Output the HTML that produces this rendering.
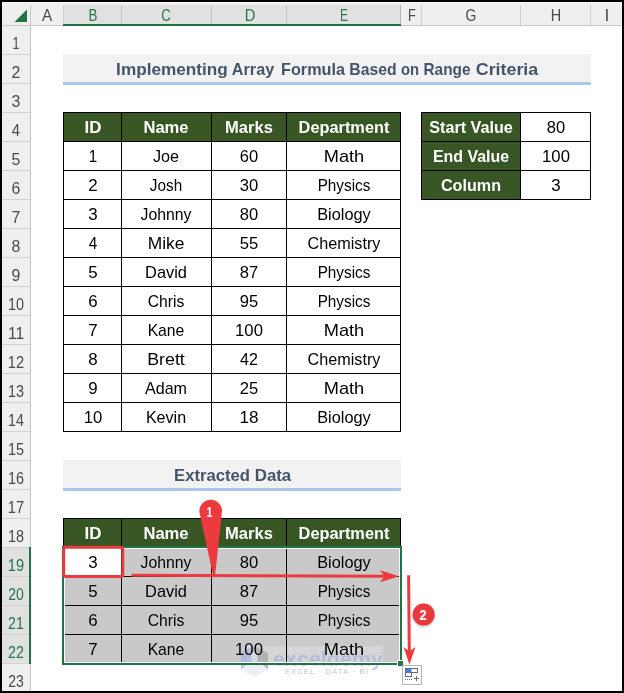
<!DOCTYPE html><html><head><meta charset="utf-8"><title>Excel</title><style>
html,body{margin:0;padding:0;}body{width:624px;height:693px;background:#000;position:relative;overflow:hidden;font-family:"Liberation Sans", sans-serif;}
#s{position:absolute;left:2px;top:2px;width:620px;height:689px;background:#fff;overflow:hidden;}
#o{position:absolute;left:-2px;top:-2px;width:624px;height:693px;}
.r{position:absolute;}
.t{position:absolute;white-space:nowrap;line-height:20px;height:20px;width:200px;text-align:center;transform-origin:50% 50%;}
</style></head><body><div id="s"><div id="o">
<div class="r" style="left:2px;top:2px;width:620px;height:23px;background:#efefef;"></div>
<div class="r" style="left:2px;top:2px;width:620px;height:1px;background:#f8f8f8;"></div>
<div class="r" style="left:2px;top:25px;width:28px;height:666px;background:#efefef;"></div>
<div class="r" style="left:63px;top:5px;width:337px;height:20px;background:#e1e1e1;"></div>
<div class="r" style="left:2px;top:547px;width:28px;height:116px;background:#e1e1e1;"></div>
<div class="r" style="left:2px;top:25px;width:620px;height:1px;background:#c8c8c8;"></div>
<div class="r" style="left:30px;top:5px;width:1px;height:686px;background:#c8c8c8;"></div>
<div class="r" style="left:63px;top:5px;width:1px;height:20px;background:#cfcfcf;"></div>
<div class="r" style="left:121px;top:5px;width:1px;height:20px;background:#c2c2c2;"></div>
<div class="r" style="left:211px;top:5px;width:1px;height:20px;background:#c2c2c2;"></div>
<div class="r" style="left:286px;top:5px;width:1px;height:20px;background:#c2c2c2;"></div>
<div class="r" style="left:400px;top:5px;width:1px;height:20px;background:#b4b4b4;"></div>
<div class="r" style="left:421px;top:5px;width:1px;height:20px;background:#cfcfcf;"></div>
<div class="r" style="left:520px;top:5px;width:1px;height:20px;background:#cfcfcf;"></div>
<div class="r" style="left:590px;top:5px;width:1px;height:20px;background:#cfcfcf;"></div>
<div class="r" style="left:2px;top:54px;width:28px;height:1px;background:#d2d2d2;"></div>
<div class="r" style="left:2px;top:83px;width:28px;height:1px;background:#d2d2d2;"></div>
<div class="r" style="left:2px;top:112px;width:28px;height:1px;background:#d2d2d2;"></div>
<div class="r" style="left:2px;top:141px;width:28px;height:1px;background:#d2d2d2;"></div>
<div class="r" style="left:2px;top:170px;width:28px;height:1px;background:#d2d2d2;"></div>
<div class="r" style="left:2px;top:199px;width:28px;height:1px;background:#d2d2d2;"></div>
<div class="r" style="left:2px;top:228px;width:28px;height:1px;background:#d2d2d2;"></div>
<div class="r" style="left:2px;top:257px;width:28px;height:1px;background:#d2d2d2;"></div>
<div class="r" style="left:2px;top:286px;width:28px;height:1px;background:#d2d2d2;"></div>
<div class="r" style="left:2px;top:315px;width:28px;height:1px;background:#d2d2d2;"></div>
<div class="r" style="left:2px;top:344px;width:28px;height:1px;background:#d2d2d2;"></div>
<div class="r" style="left:2px;top:373px;width:28px;height:1px;background:#d2d2d2;"></div>
<div class="r" style="left:2px;top:402px;width:28px;height:1px;background:#d2d2d2;"></div>
<div class="r" style="left:2px;top:431px;width:28px;height:1px;background:#d2d2d2;"></div>
<div class="r" style="left:2px;top:460px;width:28px;height:1px;background:#d2d2d2;"></div>
<div class="r" style="left:2px;top:489px;width:28px;height:1px;background:#d2d2d2;"></div>
<div class="r" style="left:2px;top:518px;width:28px;height:1px;background:#d2d2d2;"></div>
<div class="r" style="left:2px;top:547px;width:28px;height:1px;background:#d2d2d2;"></div>
<div class="r" style="left:2px;top:576px;width:28px;height:1px;background:#d2d2d2;"></div>
<div class="r" style="left:2px;top:605px;width:28px;height:1px;background:#d2d2d2;"></div>
<div class="r" style="left:2px;top:634px;width:28px;height:1px;background:#d2d2d2;"></div>
<div class="r" style="left:2px;top:663px;width:28px;height:1px;background:#d2d2d2;"></div>
<div class="r" style="left:63px;top:24px;width:338px;height:2px;background:#217346;"></div>
<div class="r" style="left:29px;top:547px;width:2px;height:117px;background:#217346;"></div>
<svg class="r" style="left:14px;top:9px" width="14" height="14" viewBox="0 0 14 14"><path d="M13 0.5 L13 13 L0.5 13 Z" fill="#217346"/></svg>
<div class="r" style="left:63px;top:54px;width:528px;height:28px;background:#f2f2f2;"></div>
<div class="r" style="left:63px;top:82px;width:528px;height:3px;background:#a9c8e8;"></div>
<div class="r" style="left:63px;top:460px;width:338px;height:28px;background:#f2f2f2;"></div>
<div class="r" style="left:63px;top:488px;width:338px;height:3px;background:#a9c8e8;"></div>
<div class="r" style="left:63px;top:112px;width:338px;height:320px;background:#000;"></div>
<div class="r" style="left:64px;top:113px;width:57px;height:28px;background:#375623;"></div>
<div class="r" style="left:122px;top:113px;width:89px;height:28px;background:#375623;"></div>
<div class="r" style="left:212px;top:113px;width:74px;height:28px;background:#375623;"></div>
<div class="r" style="left:287px;top:113px;width:113px;height:28px;background:#375623;"></div>
<div class="r" style="left:64px;top:142px;width:57px;height:28px;background:#fff;"></div>
<div class="r" style="left:122px;top:142px;width:89px;height:28px;background:#fff;"></div>
<div class="r" style="left:212px;top:142px;width:74px;height:28px;background:#fff;"></div>
<div class="r" style="left:287px;top:142px;width:113px;height:28px;background:#fff;"></div>
<div class="r" style="left:64px;top:171px;width:57px;height:28px;background:#fff;"></div>
<div class="r" style="left:122px;top:171px;width:89px;height:28px;background:#fff;"></div>
<div class="r" style="left:212px;top:171px;width:74px;height:28px;background:#fff;"></div>
<div class="r" style="left:287px;top:171px;width:113px;height:28px;background:#fff;"></div>
<div class="r" style="left:64px;top:200px;width:57px;height:28px;background:#fff;"></div>
<div class="r" style="left:122px;top:200px;width:89px;height:28px;background:#fff;"></div>
<div class="r" style="left:212px;top:200px;width:74px;height:28px;background:#fff;"></div>
<div class="r" style="left:287px;top:200px;width:113px;height:28px;background:#fff;"></div>
<div class="r" style="left:64px;top:229px;width:57px;height:28px;background:#fff;"></div>
<div class="r" style="left:122px;top:229px;width:89px;height:28px;background:#fff;"></div>
<div class="r" style="left:212px;top:229px;width:74px;height:28px;background:#fff;"></div>
<div class="r" style="left:287px;top:229px;width:113px;height:28px;background:#fff;"></div>
<div class="r" style="left:64px;top:258px;width:57px;height:28px;background:#fff;"></div>
<div class="r" style="left:122px;top:258px;width:89px;height:28px;background:#fff;"></div>
<div class="r" style="left:212px;top:258px;width:74px;height:28px;background:#fff;"></div>
<div class="r" style="left:287px;top:258px;width:113px;height:28px;background:#fff;"></div>
<div class="r" style="left:64px;top:287px;width:57px;height:28px;background:#fff;"></div>
<div class="r" style="left:122px;top:287px;width:89px;height:28px;background:#fff;"></div>
<div class="r" style="left:212px;top:287px;width:74px;height:28px;background:#fff;"></div>
<div class="r" style="left:287px;top:287px;width:113px;height:28px;background:#fff;"></div>
<div class="r" style="left:64px;top:316px;width:57px;height:28px;background:#fff;"></div>
<div class="r" style="left:122px;top:316px;width:89px;height:28px;background:#fff;"></div>
<div class="r" style="left:212px;top:316px;width:74px;height:28px;background:#fff;"></div>
<div class="r" style="left:287px;top:316px;width:113px;height:28px;background:#fff;"></div>
<div class="r" style="left:64px;top:345px;width:57px;height:28px;background:#fff;"></div>
<div class="r" style="left:122px;top:345px;width:89px;height:28px;background:#fff;"></div>
<div class="r" style="left:212px;top:345px;width:74px;height:28px;background:#fff;"></div>
<div class="r" style="left:287px;top:345px;width:113px;height:28px;background:#fff;"></div>
<div class="r" style="left:64px;top:374px;width:57px;height:28px;background:#fff;"></div>
<div class="r" style="left:122px;top:374px;width:89px;height:28px;background:#fff;"></div>
<div class="r" style="left:212px;top:374px;width:74px;height:28px;background:#fff;"></div>
<div class="r" style="left:287px;top:374px;width:113px;height:28px;background:#fff;"></div>
<div class="r" style="left:64px;top:403px;width:57px;height:28px;background:#fff;"></div>
<div class="r" style="left:122px;top:403px;width:89px;height:28px;background:#fff;"></div>
<div class="r" style="left:212px;top:403px;width:74px;height:28px;background:#fff;"></div>
<div class="r" style="left:287px;top:403px;width:113px;height:28px;background:#fff;"></div>
<div class="r" style="left:421px;top:112px;width:170px;height:88px;background:#000;"></div>
<div class="r" style="left:422px;top:113px;width:98px;height:28px;background:#375623;"></div>
<div class="r" style="left:521px;top:113px;width:69px;height:28px;background:#fff;"></div>
<div class="r" style="left:422px;top:142px;width:98px;height:28px;background:#375623;"></div>
<div class="r" style="left:521px;top:142px;width:69px;height:28px;background:#fff;"></div>
<div class="r" style="left:422px;top:171px;width:98px;height:28px;background:#375623;"></div>
<div class="r" style="left:521px;top:171px;width:69px;height:28px;background:#fff;"></div>
<div class="r" style="left:63px;top:518px;width:338px;height:146px;background:#000;"></div>
<div class="r" style="left:64px;top:519px;width:57px;height:28px;background:#375623;"></div>
<div class="r" style="left:122px;top:519px;width:89px;height:28px;background:#375623;"></div>
<div class="r" style="left:212px;top:519px;width:74px;height:28px;background:#375623;"></div>
<div class="r" style="left:287px;top:519px;width:113px;height:28px;background:#375623;"></div>
<div class="r" style="left:64px;top:548px;width:57px;height:28px;background:#fff;"></div>
<div class="r" style="left:122px;top:548px;width:89px;height:28px;background:#c9c9c9;"></div>
<div class="r" style="left:212px;top:548px;width:74px;height:28px;background:#c9c9c9;"></div>
<div class="r" style="left:287px;top:548px;width:113px;height:28px;background:#c9c9c9;"></div>
<div class="r" style="left:64px;top:577px;width:57px;height:28px;background:#c9c9c9;"></div>
<div class="r" style="left:122px;top:577px;width:89px;height:28px;background:#c9c9c9;"></div>
<div class="r" style="left:212px;top:577px;width:74px;height:28px;background:#c9c9c9;"></div>
<div class="r" style="left:287px;top:577px;width:113px;height:28px;background:#c9c9c9;"></div>
<div class="r" style="left:64px;top:606px;width:57px;height:28px;background:#c9c9c9;"></div>
<div class="r" style="left:122px;top:606px;width:89px;height:28px;background:#c9c9c9;"></div>
<div class="r" style="left:212px;top:606px;width:74px;height:28px;background:#c9c9c9;"></div>
<div class="r" style="left:287px;top:606px;width:113px;height:28px;background:#c9c9c9;"></div>
<div class="r" style="left:64px;top:635px;width:57px;height:28px;background:#c9c9c9;"></div>
<div class="r" style="left:122px;top:635px;width:89px;height:28px;background:#c9c9c9;"></div>
<div class="r" style="left:212px;top:635px;width:74px;height:28px;background:#c9c9c9;"></div>
<div class="r" style="left:287px;top:635px;width:113px;height:28px;background:#c9c9c9;"></div>
<svg class="r" style="left:0;top:0" width="624" height="693" viewBox="0 0 624 693">
<!-- watermark -->
<rect x="246" y="646" width="137" height="17" fill="#ffffff" opacity="0.22"/>
<g opacity="0.78">
<path d="M254.5 645.6 L268 653 L268 669.5 L254.5 677 L241 669.5 L241 653 Z" fill="#e9edf5"/>
<path d="M241 653 L254.5 645.6 L254.5 660 L247.5 664 L241 669.5 Z" fill="#aab8e0"/>
<path d="M254.5 645.6 L268 653 L268 669.5 L261.5 664 L254.5 660 Z" fill="#a9a9a9"/>
<path d="M251.5 652.5 L254.5 651 L257.5 652.5 L257.5 662 L254.5 663.5 L251.5 662 Z" fill="#d4d9e4"/>
</g>
<g opacity="0.5">
<text x="328" y="666" font-family="Liberation Sans, sans-serif" font-weight="bold" font-size="21" fill="#8fa6e0" text-anchor="middle" textLength="110" lengthAdjust="spacingAndGlyphs">exceldemy</text>
<text x="326.5" y="674" font-family="Liberation Sans, sans-serif" font-weight="bold" font-size="7.5" fill="#a9aebb" text-anchor="middle" textLength="83" lengthAdjust="spacing">EXCEL · DATA · BI</text>
</g>
<rect x="286" y="634" width="1" height="29" fill="#000"/>
</svg>

<div class="r" style="left:62px;top:546px;width:336px;height:115px;border:2px solid #217346;box-shadow:inset 0 0 0 1px #fff;"></div>
<div class="r" style="left:397px;top:660px;width:7px;height:7px;background:#fff;"></div>
<div class="r" style="left:398px;top:661px;width:5px;height:5px;background:#217346;"></div>
<div class="t" style="left:-53.20px;top:5.00px;font-size:16.3px;font-weight:normal;color:#4a4a4a;transform:scaleX(0.9395);">A</div>
<div class="t" style="left:-7.50px;top:5.00px;font-size:16.3px;font-weight:normal;color:#24774a;transform:scaleX(0.8229);">B</div>
<div class="t" style="left:66.30px;top:5.00px;font-size:16.3px;font-weight:normal;color:#24774a;transform:scaleX(0.8098);">C</div>
<div class="t" style="left:149.50px;top:5.00px;font-size:16.3px;font-weight:normal;color:#24774a;transform:scaleX(0.9026);">D</div>
<div class="t" style="left:243.80px;top:5.00px;font-size:16.3px;font-weight:normal;color:#24774a;transform:scaleX(0.7333);">E</div>
<div class="t" style="left:311.90px;top:5.00px;font-size:16.3px;font-weight:normal;color:#4a4a4a;transform:scaleX(0.7875);">F</div>
<div class="t" style="left:371.00px;top:5.00px;font-size:16.3px;font-weight:normal;color:#4a4a4a;transform:scaleX(0.8558);">G</div>
<div class="t" style="left:455.50px;top:5.00px;font-size:16.3px;font-weight:normal;color:#4a4a4a;transform:scaleX(0.8865);">H</div>
<div class="t" style="left:506.70px;top:5.00px;font-size:16.3px;font-weight:normal;color:#4a4a4a;transform:scaleX(1.0667);">I</div>
<div class="t" style="left:-83.70px;top:33.00px;font-size:16.3px;font-weight:normal;color:#4a4a4a;transform:scaleX(0.7714);">1</div>
<div class="t" style="left:-83.70px;top:62.00px;font-size:16.3px;font-weight:normal;color:#4a4a4a;transform:scaleX(0.9733);">2</div>
<div class="t" style="left:-83.70px;top:91.00px;font-size:16.3px;font-weight:normal;color:#4a4a4a;transform:scaleX(0.9733);">3</div>
<div class="t" style="left:-83.70px;top:120.00px;font-size:16.3px;font-weight:normal;color:#4a4a4a;transform:scaleX(0.9125);">4</div>
<div class="t" style="left:-83.70px;top:149.00px;font-size:16.3px;font-weight:normal;color:#4a4a4a;transform:scaleX(0.9733);">5</div>
<div class="t" style="left:-83.70px;top:178.00px;font-size:16.3px;font-weight:normal;color:#4a4a4a;transform:scaleX(0.9733);">6</div>
<div class="t" style="left:-83.70px;top:207.00px;font-size:16.3px;font-weight:normal;color:#4a4a4a;transform:scaleX(0.9733);">7</div>
<div class="t" style="left:-83.70px;top:236.00px;font-size:16.3px;font-weight:normal;color:#4a4a4a;transform:scaleX(0.9733);">8</div>
<div class="t" style="left:-83.70px;top:265.00px;font-size:16.3px;font-weight:normal;color:#4a4a4a;transform:scaleX(0.9733);">9</div>
<div class="t" style="left:-83.70px;top:294.00px;font-size:16.3px;font-weight:normal;color:#4a4a4a;transform:scaleX(0.8862);">10</div>
<div class="t" style="left:-83.70px;top:323.00px;font-size:16.3px;font-weight:normal;color:#4a4a4a;transform:scaleX(0.9600);">11</div>
<div class="t" style="left:-83.70px;top:352.00px;font-size:16.3px;font-weight:normal;color:#4a4a4a;transform:scaleX(0.9000);">12</div>
<div class="t" style="left:-83.70px;top:381.00px;font-size:16.3px;font-weight:normal;color:#4a4a4a;transform:scaleX(0.8862);">13</div>
<div class="t" style="left:-83.70px;top:410.00px;font-size:16.3px;font-weight:normal;color:#4a4a4a;transform:scaleX(0.8727);">14</div>
<div class="t" style="left:-83.70px;top:439.00px;font-size:16.3px;font-weight:normal;color:#4a4a4a;transform:scaleX(0.8862);">15</div>
<div class="t" style="left:-83.70px;top:468.00px;font-size:16.3px;font-weight:normal;color:#4a4a4a;transform:scaleX(0.8862);">16</div>
<div class="t" style="left:-83.70px;top:497.00px;font-size:16.3px;font-weight:normal;color:#4a4a4a;transform:scaleX(0.9000);">17</div>
<div class="t" style="left:-83.70px;top:526.00px;font-size:16.3px;font-weight:normal;color:#4a4a4a;transform:scaleX(0.8862);">18</div>
<div class="t" style="left:-83.70px;top:555.00px;font-size:16.3px;font-weight:normal;color:#24774a;transform:scaleX(0.9000);">19</div>
<div class="t" style="left:-83.70px;top:584.00px;font-size:16.3px;font-weight:normal;color:#24774a;transform:scaleX(0.8597);">20</div>
<div class="t" style="left:-83.70px;top:613.00px;font-size:16.3px;font-weight:normal;color:#24774a;transform:scaleX(0.8727);">21</div>
<div class="t" style="left:-83.70px;top:642.00px;font-size:16.3px;font-weight:normal;color:#24774a;transform:scaleX(0.8727);">22</div>
<div class="t" style="left:-83.70px;top:671.00px;font-size:16.3px;font-weight:normal;color:#4a4a4a;transform:scaleX(0.8597);">23</div>
<div class="t" style="left:72.30px;top:60.00px;font-size:15.7px;font-weight:bold;color:#44546a;transform:scaleX(1.0960);">Implementing</div>
<div class="t" style="left:153.40px;top:60.00px;font-size:15.7px;font-weight:bold;color:#44546a;transform:scaleX(1.0335);">Array</div>
<div class="t" style="left:212.80px;top:60.00px;font-size:15.7px;font-weight:bold;color:#44546a;transform:scaleX(1.0328);">Formula</div>
<div class="t" style="left:272.70px;top:60.00px;font-size:15.7px;font-weight:bold;color:#44546a;transform:scaleX(1.0044);">Based</div>
<div class="t" style="left:309.50px;top:60.00px;font-size:15.7px;font-weight:bold;color:#44546a;transform:scaleX(0.9465);">on</div>
<div class="t" style="left:346.65px;top:60.00px;font-size:15.7px;font-weight:bold;color:#44546a;transform:scaleX(0.9785);">Range</div>
<div class="t" style="left:406.90px;top:60.00px;font-size:15.7px;font-weight:bold;color:#44546a;transform:scaleX(1.1355);">Criteria</div>
<div class="t" style="left:111.60px;top:466.00px;font-size:15.7px;font-weight:bold;color:#44546a;transform:scaleX(1.0619);">Extracted</div>
<div class="t" style="left:172.60px;top:466.00px;font-size:15.7px;font-weight:bold;color:#44546a;transform:scaleX(1.0727);">Data</div>
<div class="t" style="left:-7.50px;top:118.00px;font-size:15.7px;font-weight:bold;color:#fff;transform:scaleX(1.0786);">ID</div>
<div class="t" style="left:-7.50px;top:524.00px;font-size:15.7px;font-weight:bold;color:#fff;transform:scaleX(1.0786);">ID</div>
<div class="t" style="left:66.40px;top:118.00px;font-size:15.7px;font-weight:bold;color:#fff;transform:scaleX(1.0570);">Name</div>
<div class="t" style="left:66.40px;top:524.00px;font-size:15.7px;font-weight:bold;color:#fff;transform:scaleX(1.0570);">Name</div>
<div class="t" style="left:149.00px;top:118.00px;font-size:15.7px;font-weight:bold;color:#fff;transform:scaleX(1.0537);">Marks</div>
<div class="t" style="left:149.00px;top:524.00px;font-size:15.7px;font-weight:bold;color:#fff;transform:scaleX(1.0537);">Marks</div>
<div class="t" style="left:243.60px;top:118.00px;font-size:15.7px;font-weight:bold;color:#fff;transform:scaleX(1.0419);">Department</div>
<div class="t" style="left:243.60px;top:524.00px;font-size:15.7px;font-weight:bold;color:#fff;transform:scaleX(1.0419);">Department</div>
<div class="t" style="left:-7.50px;top:147.00px;font-size:15.7px;font-weight:normal;color:#000;transform:scaleX(0.9630);">1</div>
<div class="t" style="left:66.40px;top:147.00px;font-size:15.7px;font-weight:normal;color:#000;transform:scaleX(1.0309);">Joe</div>
<div class="t" style="left:149.00px;top:147.00px;font-size:15.7px;font-weight:normal;color:#000;transform:scaleX(1.0562);">60</div>
<div class="t" style="left:243.60px;top:147.00px;font-size:15.7px;font-weight:normal;color:#000;transform:scaleX(1.1600);">Math</div>
<div class="t" style="left:-7.50px;top:176.00px;font-size:15.7px;font-weight:normal;color:#000;transform:scaleX(1.0759);">2</div>
<div class="t" style="left:66.40px;top:176.00px;font-size:15.7px;font-weight:normal;color:#000;transform:scaleX(0.9750);">Josh</div>
<div class="t" style="left:149.00px;top:176.00px;font-size:15.7px;font-weight:normal;color:#000;transform:scaleX(1.0562);">30</div>
<div class="t" style="left:243.60px;top:176.00px;font-size:15.7px;font-weight:normal;color:#000;transform:scaleX(0.9742);">Physics</div>
<div class="t" style="left:-7.50px;top:205.00px;font-size:15.7px;font-weight:normal;color:#000;transform:scaleX(1.0759);">3</div>
<div class="t" style="left:66.40px;top:205.00px;font-size:15.7px;font-weight:normal;color:#000;transform:scaleX(1.0070);">Johnny</div>
<div class="t" style="left:149.00px;top:205.00px;font-size:15.7px;font-weight:normal;color:#000;transform:scaleX(1.0562);">80</div>
<div class="t" style="left:243.60px;top:205.00px;font-size:15.7px;font-weight:normal;color:#000;transform:scaleX(1.0400);">Biology</div>
<div class="t" style="left:-7.50px;top:234.00px;font-size:15.7px;font-weight:normal;color:#000;transform:scaleX(0.9750);">4</div>
<div class="t" style="left:66.40px;top:234.00px;font-size:15.7px;font-weight:normal;color:#000;transform:scaleX(1.1072);">Mike</div>
<div class="t" style="left:149.00px;top:234.00px;font-size:15.7px;font-weight:normal;color:#000;transform:scaleX(1.0562);">55</div>
<div class="t" style="left:243.60px;top:234.00px;font-size:15.7px;font-weight:normal;color:#000;transform:scaleX(1.0308);">Chemistry</div>
<div class="t" style="left:-7.50px;top:263.00px;font-size:15.7px;font-weight:normal;color:#000;transform:scaleX(1.0759);">5</div>
<div class="t" style="left:66.40px;top:263.00px;font-size:15.7px;font-weight:normal;color:#000;transform:scaleX(1.0437);">David</div>
<div class="t" style="left:149.00px;top:263.00px;font-size:15.7px;font-weight:normal;color:#000;transform:scaleX(1.0562);">87</div>
<div class="t" style="left:243.60px;top:263.00px;font-size:15.7px;font-weight:normal;color:#000;transform:scaleX(0.9742);">Physics</div>
<div class="t" style="left:-7.50px;top:292.00px;font-size:15.7px;font-weight:normal;color:#000;transform:scaleX(1.0759);">6</div>
<div class="t" style="left:66.40px;top:292.00px;font-size:15.7px;font-weight:normal;color:#000;transform:scaleX(1.0014);">Chris</div>
<div class="t" style="left:149.00px;top:292.00px;font-size:15.7px;font-weight:normal;color:#000;transform:scaleX(1.0562);">95</div>
<div class="t" style="left:243.60px;top:292.00px;font-size:15.7px;font-weight:normal;color:#000;transform:scaleX(0.9742);">Physics</div>
<div class="t" style="left:-7.50px;top:321.00px;font-size:15.7px;font-weight:normal;color:#000;transform:scaleX(1.0759);">7</div>
<div class="t" style="left:66.40px;top:321.00px;font-size:15.7px;font-weight:normal;color:#000;transform:scaleX(1.0014);">Kane</div>
<div class="t" style="left:149.00px;top:321.00px;font-size:15.7px;font-weight:normal;color:#000;transform:scaleX(1.0639);">100</div>
<div class="t" style="left:243.60px;top:321.00px;font-size:15.7px;font-weight:normal;color:#000;transform:scaleX(1.1600);">Math</div>
<div class="t" style="left:-7.50px;top:350.00px;font-size:15.7px;font-weight:normal;color:#000;transform:scaleX(1.0759);">8</div>
<div class="t" style="left:66.40px;top:350.00px;font-size:15.7px;font-weight:normal;color:#000;transform:scaleX(1.1370);">Brett</div>
<div class="t" style="left:149.00px;top:350.00px;font-size:15.7px;font-weight:normal;color:#000;transform:scaleX(1.0242);">42</div>
<div class="t" style="left:243.60px;top:350.00px;font-size:15.7px;font-weight:normal;color:#000;transform:scaleX(1.0308);">Chemistry</div>
<div class="t" style="left:-7.50px;top:379.00px;font-size:15.7px;font-weight:normal;color:#000;transform:scaleX(1.0759);">9</div>
<div class="t" style="left:66.40px;top:379.00px;font-size:15.7px;font-weight:normal;color:#000;transform:scaleX(1.0275);">Adam</div>
<div class="t" style="left:149.00px;top:379.00px;font-size:15.7px;font-weight:normal;color:#000;transform:scaleX(1.0562);">25</div>
<div class="t" style="left:243.60px;top:379.00px;font-size:15.7px;font-weight:normal;color:#000;transform:scaleX(1.1600);">Math</div>
<div class="t" style="left:-7.50px;top:408.00px;font-size:15.7px;font-weight:normal;color:#000;transform:scaleX(1.0645);">10</div>
<div class="t" style="left:66.40px;top:408.00px;font-size:15.7px;font-weight:normal;color:#000;transform:scaleX(1.0243);">Kevin</div>
<div class="t" style="left:149.00px;top:408.00px;font-size:15.7px;font-weight:normal;color:#000;transform:scaleX(1.0903);">18</div>
<div class="t" style="left:243.60px;top:408.00px;font-size:15.7px;font-weight:normal;color:#000;transform:scaleX(1.0400);">Biology</div>
<div class="t" style="left:-7.50px;top:553.00px;font-size:15.7px;font-weight:normal;color:#000;transform:scaleX(1.0759);">3</div>
<div class="t" style="left:66.40px;top:553.00px;font-size:15.7px;font-weight:normal;color:#000;transform:scaleX(1.0070);">Johnny</div>
<div class="t" style="left:149.00px;top:553.00px;font-size:15.7px;font-weight:normal;color:#000;transform:scaleX(1.0562);">80</div>
<div class="t" style="left:243.60px;top:553.00px;font-size:15.7px;font-weight:normal;color:#000;transform:scaleX(1.0400);">Biology</div>
<div class="t" style="left:-7.50px;top:582.00px;font-size:15.7px;font-weight:normal;color:#000;transform:scaleX(1.0759);">5</div>
<div class="t" style="left:66.40px;top:582.00px;font-size:15.7px;font-weight:normal;color:#000;transform:scaleX(1.0437);">David</div>
<div class="t" style="left:149.00px;top:582.00px;font-size:15.7px;font-weight:normal;color:#000;transform:scaleX(1.0562);">87</div>
<div class="t" style="left:243.60px;top:582.00px;font-size:15.7px;font-weight:normal;color:#000;transform:scaleX(0.9742);">Physics</div>
<div class="t" style="left:-7.50px;top:611.00px;font-size:15.7px;font-weight:normal;color:#000;transform:scaleX(1.0759);">6</div>
<div class="t" style="left:66.40px;top:611.00px;font-size:15.7px;font-weight:normal;color:#000;transform:scaleX(1.0014);">Chris</div>
<div class="t" style="left:149.00px;top:611.00px;font-size:15.7px;font-weight:normal;color:#000;transform:scaleX(1.0562);">95</div>
<div class="t" style="left:243.60px;top:611.00px;font-size:15.7px;font-weight:normal;color:#000;transform:scaleX(0.9742);">Physics</div>
<div class="t" style="left:-7.50px;top:640.00px;font-size:15.7px;font-weight:normal;color:#000;transform:scaleX(1.0759);">7</div>
<div class="t" style="left:66.40px;top:640.00px;font-size:15.7px;font-weight:normal;color:#000;transform:scaleX(1.0014);">Kane</div>
<div class="t" style="left:149.00px;top:640.00px;font-size:15.7px;font-weight:normal;color:#000;transform:scaleX(1.0639);">100</div>
<div class="t" style="left:243.60px;top:640.00px;font-size:15.7px;font-weight:normal;color:#000;transform:scaleX(1.1600);">Math</div>
<div class="t" style="left:371.00px;top:118.00px;font-size:15.7px;font-weight:bold;color:#fff;transform:scaleX(1.0300);">Start Value</div>
<div class="t" style="left:455.80px;top:118.00px;font-size:15.7px;font-weight:normal;color:#000;transform:scaleX(1.0562);">80</div>
<div class="t" style="left:371.00px;top:147.00px;font-size:15.7px;font-weight:bold;color:#fff;transform:scaleX(1.0163);">End Value</div>
<div class="t" style="left:455.80px;top:147.00px;font-size:15.7px;font-weight:normal;color:#000;transform:scaleX(1.0639);">100</div>
<div class="t" style="left:371.00px;top:176.00px;font-size:15.7px;font-weight:bold;color:#fff;transform:scaleX(1.0291);">Column</div>
<div class="t" style="left:455.80px;top:176.00px;font-size:15.7px;font-weight:normal;color:#000;transform:scaleX(1.0759);">3</div>
<svg class="r" style="left:0;top:0" width="624" height="693" viewBox="0 0 624 693">
<defs><filter id="sh" x="-30%" y="-30%" width="160%" height="160%"><feGaussianBlur stdDeviation="1.2"/></filter></defs>
<!-- red box on B19 -->
<rect x="63.7" y="547.3" width="59.1" height="29.2" rx="2" ry="2" fill="none" stroke="#ec3a3f" stroke-width="3"/>
<!-- horizontal arrow -->
<path d="M131.5 575.3 L386 576.2" stroke="#ec3a3f" stroke-width="3" fill="none"/>
<path d="M399 576.2 L380 570.2 L384.5 576.2 L380 582.2 Z" fill="#ec3a3f"/>
<!-- vertical arrow -->
<path d="M408.6 575.2 L409.3 652" stroke="#ec3a3f" stroke-width="3" fill="none"/>
<path d="M409.4 664.6 L403.6 647 L409.4 651.5 L415.5 647 Z" fill="#ec3a3f"/>
<!-- teardrop 1 -->
<path d="M213.3 576.5 L199.55 512.8 A11.3 11.3 0 1 1 221.85 512.8 L215 576.5 Z" fill="#ec3a3f"/>
<text transform="translate(209.5,516.6) scale(0.72,1)" font-family="Liberation Sans, sans-serif" font-weight="bold" font-size="14" fill="#fff" text-anchor="middle">1</text>
<!-- circle 2 -->
<circle cx="423.8" cy="615.6" r="11" fill="#000" opacity="0.28" filter="url(#sh)"/>
<circle cx="423.6" cy="614.5" r="11" fill="#eb383d"/>
<text transform="translate(423.1,619.5) scale(0.84,1)" font-family="Liberation Sans, sans-serif" font-weight="bold" font-size="15.3" fill="#fff" text-anchor="middle">2</text>
<!-- autofill options icon -->
<rect x="402.5" y="665.5" width="19" height="19" fill="#fff" stroke="#b3b3b3" stroke-width="1"/>
<rect x="405.5" y="668.5" width="12" height="4" fill="#fff" stroke="#6b6b6b" stroke-width="1"/>
<rect x="405.5" y="672.5" width="6" height="4" fill="#fff" stroke="#6b6b6b" stroke-width="1"/>
<rect x="406" y="669" width="5.5" height="3.5" fill="#3f7fee"/>
<path d="M405 679.5 h1 m1 0 h1 m1 0 h1 m1 0 h1" stroke="#6b6b6b" stroke-width="1.2"/>
<path d="M414 678.5 h5 M416.5 676 v5" stroke="#6a6a6a" stroke-width="1"/>
</svg>

</div></div></body></html>
